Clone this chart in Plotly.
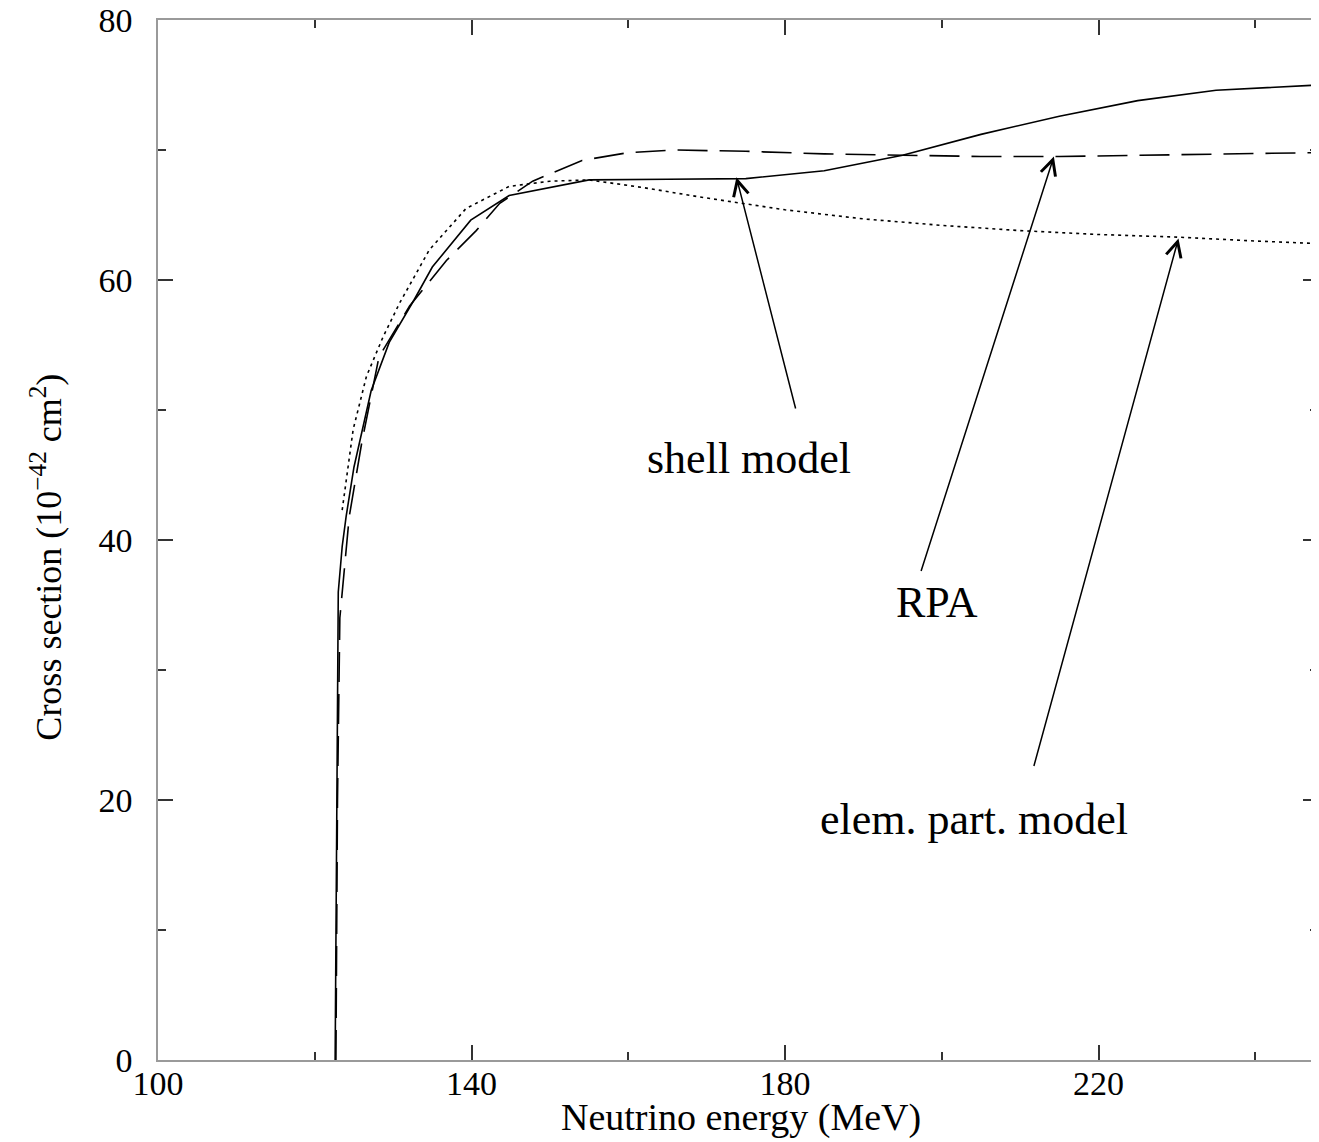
import plotly.graph_objects as go

# Shell model (solid)
shell_x = [122.6, 122.8, 123.0, 123.5, 124.0, 125.0, 127.2, 129.5, 132.7, 135.0, 139.9, 144.8,
           155.0, 165.0, 175.0, 185.0, 195.0, 205.0, 215.0, 225.0, 235.0, 248.0]
shell_y = [0, 20, 36, 39.5, 41.8, 45.6, 51.5, 55.2, 58.5, 61.0, 64.6, 66.5,
           67.7, 67.75, 67.8, 68.4, 69.6, 71.2, 72.6, 73.8, 74.6, 75.0]

# RPA (dashed)
rpa_x = [122.7, 122.9, 123.2, 124.4, 126.0, 128.2, 132.1, 136.8, 140.6, 143.6, 147.8, 154.1,
         160.0, 166.0, 175.0, 185.0, 195.0, 205.0, 215.0, 225.0, 235.0, 248.0]
rpa_y = [0, 20, 34, 41.8, 47.5, 54.1, 58.0, 61.5, 63.8, 65.9, 67.6, 69.2,
         69.8, 70.0, 69.9, 69.7, 69.6, 69.5, 69.5, 69.6, 69.7, 69.8]

# Elementary particle model (dotted)
epm_x = [123.5, 124.9, 126.6, 128.7, 130.8, 134.6, 139.3, 144.8, 150.0, 155.0, 162.0, 169.0,
         180.0, 190.0, 200.0, 210.0, 220.0, 230.0, 240.0, 248.0]
epm_y = [42.3, 48.5, 52.6, 55.6, 58.2, 62.3, 65.5, 67.2, 67.6, 67.7, 67.1, 66.4,
         65.4, 64.7, 64.2, 63.8, 63.5, 63.3, 63.0, 62.8]

x_ticks = [100, 140, 180, 220]
y_ticks = [0, 20, 40, 60, 80]

labels = ["shell model", "RPA", "elem. part. model"]
label_pos = [(175.4, 46.3), (199.4, 35.2), (204.1, 18.5)]
arrow_head = [(173.8, 67.9), (214.3, 69.5), (230.2, 63.2)]
arrow_tail = [(181.4, 50.0), (197.3, 37.5), (211.7, 22.5)]

FONT = "Liberation Serif, Times New Roman, serif"

fig = go.Figure()
fig.add_trace(go.Scatter(x=shell_x, y=shell_y, mode="lines",
                         line=dict(color="black", width=1.6), name="shell model"))
fig.add_trace(go.Scatter(x=rpa_x, y=rpa_y, mode="lines",
                         line=dict(color="black", width=1.6, dash="30px,12px"), name="RPA"))
fig.add_trace(go.Scatter(x=epm_x, y=epm_y, mode="lines",
                         line=dict(color="black", width=1.6, dash="3px,4px"), name="elem. part. model"))

annotations = []
for (hx, hy), (tx, ty) in zip(arrow_head, arrow_tail):
    annotations.append(dict(x=hx, y=hy, ax=tx, ay=ty, xref="x", yref="y", axref="x", ayref="y",
                            text="", showarrow=True, arrowhead=5, arrowsize=2.0,
                            arrowwidth=1.5, arrowcolor="black"))
for lab, (lx, ly) in zip(labels, label_pos):
    annotations.append(dict(x=lx, y=ly, xref="x", yref="y", text=lab, showarrow=False,
                            font=dict(family=FONT, size=44, color="black"),
                            xanchor="center", yanchor="middle"))
annotations.append(dict(x=0.503, y=-0.0779, xref="paper", yref="paper",
                        text="Neutrino energy (MeV)", showarrow=False,
                        font=dict(family=FONT, size=38, color="black"),
                        xanchor="center", yanchor="bottom"))
annotations.append(dict(x=-0.0957, y=0.484, xref="paper", yref="paper",
                        text="Cross section (10<sup>\u221242</sup> cm<sup>2</sup>)", showarrow=False,
                        textangle=-90,
                        font=dict(family=FONT, size=36, color="black"),
                        xanchor="center", yanchor="middle"))

axis_common = dict(showgrid=False, zeroline=False, showline=True, linecolor="#9a9a9a",
                   linewidth=1.5, mirror="allticks", ticks="inside", ticklen=15, tickwidth=2,
                   tickcolor="#333333", tickfont=dict(family=FONT, size=34, color="black"),
                   ticklabeloverflow="allow", automargin=False)

fig.update_layout(
    width=1311, height=1134,
    margin=dict(l=150, r=1, t=12, b=82, autoexpand=False),
    paper_bgcolor="white", plot_bgcolor="white",
    showlegend=False,
    annotations=annotations,
    xaxis=dict(range=[100, 248], tickvals=x_ticks, ticktext=[str(v) for v in x_ticks],
               minor=dict(tickvals=[120, 160, 200, 240], ticks="inside", ticklen=8,
                          tickwidth=2, tickcolor="#333333"),
               ticklabelstandoff=-8, **axis_common),
    yaxis=dict(range=[0, 80], tickvals=y_ticks, ticktext=[str(v) for v in y_ticks],
               minor=dict(tickvals=[10, 30, 50, 70], ticks="inside", ticklen=8,
                          tickwidth=2, tickcolor="#333333"),
               ticklabelstandoff=17, **axis_common),
)

fig.write_html("out.html")
